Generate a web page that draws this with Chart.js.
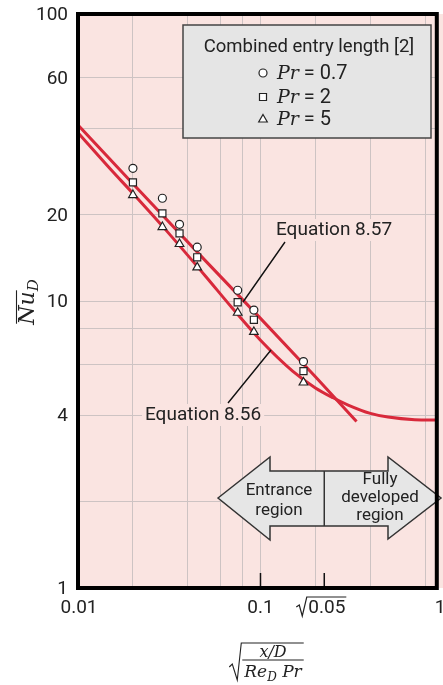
<!DOCTYPE html>
<html>
<head>
<meta charset="utf-8">
<script src="https://cdn.jsdelivr.net/npm/chart.js@4"></script>
<style>
  html, body { margin: 0; padding: 0; background: #fff; }
  #wrap { width: 443px; height: 685px; }
</style>
</head>
<body>
<div id="wrap"><canvas id="myChart" width="443" height="685"></canvas></div>
<script>
// measured points (Combined entry length [2])
const xData = [0.02, 0.029, 0.036, 0.045, 0.075, 0.092, 0.172];
const nuPr07 = [29.0, 22.8, 18.5, 15.4, 10.9, 9.3, 6.15];
const nuPr2 = [25.9, 20.2, 17.2, 14.2, 9.9, 8.6, 5.7];
const nuPr5 = [23.4, 18.1, 15.8, 13.1, 9.1, 7.8, 5.2];

// Equation 8.57
const eq57X = [0.01, 0.02, 0.05, 0.1, 0.2, 0.336];
const eq57Y = [41.0, 25.6, 13.8, 8.7, 5.45, 3.8];

// Equation 8.56
const eq56X = [0.01, 0.015, 0.02, 0.03, 0.05, 0.07, 0.1, 0.15, 0.2, 0.25, 0.3, 0.4, 0.5, 0.7, 0.925];
const eq56Y = [38.6, 28.9, 23.7, 17.8, 12.2, 9.45, 7.3, 5.7, 4.98, 4.6, 4.35, 4.06, 3.94, 3.86, 3.85];

// axes
const yGrid = [2, 4, 6, 8, 10, 20, 40, 60];
const yTickLabels = [1, 4, 10, 20, 60, 100];
const xGrid = [0.02, 0.04, 0.06, 0.08, 0.1, 0.2, 0.4, 0.8];
const xTickMarks = [0.1, Math.sqrt(0.05)];

const sans = 'Roboto, "Liberation Sans", sans-serif';
const serif = '"DejaVu Serif", "Liberation Serif", serif';
const ink = '#222';
const pink = '#fae4e1';

const pts = (xs, ys) => xs.map((x, i) => ({ x: x, y: ys[i] }));

function marker(ctx, style, x, y) {
  ctx.save();
  ctx.fillStyle = '#fff';
  ctx.strokeStyle = ink;
  ctx.lineWidth = 1.2;
  ctx.beginPath();
  if (style === 'circle') {
    ctx.arc(x, y, 4, 0, Math.PI * 2);
  } else if (style === 'rect') {
    ctx.rect(x - 3.5, y - 3.5, 7, 7);
  } else {
    ctx.moveTo(x, y - 4.5);
    ctx.lineTo(x + 4.3, y + 3);
    ctx.lineTo(x - 4.3, y + 3);
    ctx.closePath();
  }
  ctx.fill();
  ctx.stroke();
  ctx.restore();
}

function runsWidth(ctx, runs) {
  let w = 0;
  runs.forEach(r => { ctx.font = r.f; w += ctx.measureText(r.t).width; });
  return w;
}
function drawRuns(ctx, x, y, runs) {
  let cx = x;
  runs.forEach(r => {
    ctx.font = r.f;
    ctx.fillText(r.t, cx, y + (r.dy || 0));
    cx += ctx.measureText(r.t).width;
  });
  return cx;
}

const figure = {
  id: 'figure',
  beforeDraw(chart) {
    const { ctx, chartArea: a } = chart;
    ctx.save();
    ctx.fillStyle = pink;
    ctx.fillRect(a.left, a.top, chart.width - a.left, a.bottom - a.top);
    ctx.restore();
  },
  afterDatasetsDraw(chart) {
    const { ctx, chartArea: a } = chart;
    const xs = chart.scales.x;
    ctx.save();

    // legend box
    ctx.fillStyle = '#e5e5e5';
    ctx.strokeStyle = '#444';
    ctx.lineWidth = 1.5;
    ctx.fillRect(183, 25, 248, 113);
    ctx.strokeRect(183, 25, 248, 113);
    ctx.fillStyle = ink;
    ctx.textBaseline = 'middle';
    ctx.textAlign = 'center';
    ctx.font = '18.5px ' + sans;
    ctx.fillText('Combined entry length [2]', 309, 47);
    ctx.textAlign = 'left';
    const rows = [['circle', '0.7', 73], ['rect', '2', 97], ['triangle', '5', 119]];
    rows.forEach(r => {
      marker(ctx, r[0], 263, r[2]);
      ctx.fillStyle = ink;
      drawRuns(ctx, 277, r[2] + 1, [
        { t: 'Pr', f: 'italic 19px ' + serif },
        { t: ' = ' + r[1], f: '20px ' + sans }
      ]);
    });

    // equation labels
    ctx.font = '19px ' + sans;
    const lab = (txt, x, y) => {
      const w = ctx.measureText(txt).width;
      ctx.fillStyle = pink;
      ctx.fillRect(x - 3, y - 11, w + 6, 22);
      ctx.fillStyle = ink;
      ctx.fillText(txt, x, y);
    };
    lab('Equation 8.57', 276, 230);
    lab('Equation 8.56', 145, 415);
    ctx.strokeStyle = '#111';
    ctx.lineWidth = 1.4;
    ctx.beginPath();
    ctx.moveTo(285, 242); ctx.lineTo(243, 302);
    ctx.moveTo(228, 403); ctx.lineTo(271, 350);
    ctx.stroke();

    // entrance / fully developed arrow
    const mid = xs.getPixelForValue(Math.sqrt(0.05));
    ctx.beginPath();
    ctx.moveTo(218, 498);
    ctx.lineTo(270, 457); ctx.lineTo(270, 471);
    ctx.lineTo(388, 471); ctx.lineTo(388, 457);
    ctx.lineTo(441, 498);
    ctx.lineTo(388, 539); ctx.lineTo(388, 526);
    ctx.lineTo(270, 526); ctx.lineTo(270, 540);
    ctx.closePath();
    ctx.fillStyle = '#e6e6e6';
    ctx.fill();
    ctx.strokeStyle = '#333';
    ctx.lineWidth = 1.5;
    ctx.stroke();
    ctx.beginPath();
    ctx.moveTo(mid, 471); ctx.lineTo(mid, 526);
    ctx.stroke();
    ctx.fillStyle = ink;
    ctx.textAlign = 'center';
    ctx.font = '17px ' + sans;
    ctx.fillText('Entrance', 279, 491);
    ctx.fillText('region', 279, 511);
    ctx.fillText('Fully', 380, 480);
    ctx.fillText('developed', 380, 498);
    ctx.fillText('region', 380, 516);

    // short ticks on the bottom axis
    ctx.strokeStyle = '#111';
    ctx.lineWidth = 1.5;
    ctx.beginPath();
    xTickMarks.forEach(v => {
      const px = xs.getPixelForValue(v);
      ctx.moveTo(px, a.bottom - 15); ctx.lineTo(px, a.bottom);
    });
    ctx.stroke();
    ctx.restore();
  },
  afterDraw(chart) {
    const { ctx, chartArea: a } = chart;
    const xs = chart.scales.x, ys = chart.scales.y;
    ctx.save();
    // frame
    ctx.strokeStyle = '#000';
    ctx.lineWidth = 4;
    ctx.strokeRect(a.left, a.top, a.right - a.left, a.bottom - a.top);

    // y tick labels
    ctx.fillStyle = ink;
    ctx.font = '19px ' + sans;
    ctx.textAlign = 'right';
    ctx.textBaseline = 'middle';
    yTickLabels.forEach(v => {
      ctx.fillText(String(v), 68, ys.getPixelForValue(v) + 1.5);
    });

    // x tick labels
    ctx.textAlign = 'center';
    const ty = 608;
    ctx.fillText('0.01', xs.getPixelForValue(0.01) + 1, ty);
    ctx.fillText('0.1', xs.getPixelForValue(0.1), ty);
    ctx.fillText('1', 440, ty);
    // sqrt(0.05)
    const sx = xs.getPixelForValue(Math.sqrt(0.05));
    ctx.textAlign = 'left';
    const w05 = ctx.measureText('0.05').width;
    const tx = sx - 16;
    ctx.fillText('0.05', tx, ty);
    ctx.strokeStyle = ink;
    ctx.lineWidth = 1.2;
    ctx.beginPath();
    ctx.moveTo(tx - 12, ty - 1);
    ctx.lineTo(tx - 9, ty - 3);
    ctx.lineTo(tx - 6, ty + 8);
    ctx.lineTo(tx - 1.5, ty - 11);
    ctx.lineTo(tx + w05 + 1, ty - 11);
    ctx.stroke();

    // x axis title: sqrt( (x/D) / (Re_D Pr) )
    ctx.textBaseline = 'alphabetic';
    const num = [{ t: 'x/D', f: 'italic 16px ' + serif }];
    const den = [
      { t: 'Re', f: 'italic 17px ' + serif },
      { t: 'D', f: 'italic 12px ' + serif, dy: 4 },
      { t: ' Pr', f: 'italic 17px ' + serif }
    ];
    const cx = 273;
    const nw = runsWidth(ctx, num), dw = runsWidth(ctx, den);
    const fw = Math.max(nw, dw) + 4;
    drawRuns(ctx, cx - nw / 2, 657, num);
    drawRuns(ctx, cx - dw / 2, 677, den);
    ctx.lineWidth = 1.1;
    ctx.beginPath();
    ctx.moveTo(cx - fw / 2, 660); ctx.lineTo(cx + fw / 2, 660);
    ctx.moveTo(cx - fw / 2 - 13, 667);
    ctx.lineTo(cx - fw / 2 - 10, 664);
    ctx.lineTo(cx - fw / 2 - 5, 680);
    ctx.lineTo(cx - fw / 2 - 1, 643);
    ctx.lineTo(cx + fw / 2, 643);
    ctx.stroke();

    // y axis title: Nu_D with overline
    ctx.translate(34, 302);
    ctx.rotate(-Math.PI / 2);
    const nu = [
      { t: 'Nu', f: 'italic 22px ' + serif },
      { t: 'D', f: 'italic 15px ' + serif, dy: 4 }
    ];
    const tw = runsWidth(ctx, nu);
    ctx.font = 'italic 22px ' + serif;
    const nuw = ctx.measureText('Nu').width;
    drawRuns(ctx, -tw / 2, 0, nu);
    ctx.lineWidth = 1.1;
    ctx.beginPath();
    ctx.moveTo(-tw / 2 + 1, -17.5); ctx.lineTo(-tw / 2 + nuw + 1, -17.5);
    ctx.stroke();
    ctx.restore();
  }
};

const lineStyle = {
  showLine: true,
  borderColor: '#d8293b',
  borderWidth: 3,
  borderCapStyle: 'butt',
  pointRadius: 0,
  fill: false,
  order: 2
};
const markStyle = {
  showLine: false,
  backgroundColor: '#fff',
  borderColor: ink,
  borderWidth: 1.2,
  order: 1
};

const data = {
  datasets: [
    { ...lineStyle, label: 'Equation 8.57', data: pts(eq57X, eq57Y), tension: 0 },
    { ...lineStyle, label: 'Equation 8.56', data: pts(eq56X, eq56Y), cubicInterpolationMode: 'monotone' },
    { ...markStyle, label: 'Pr = 0.7', data: pts(xData, nuPr07), pointStyle: 'circle', pointRadius: 4 },
    { ...markStyle, label: 'Pr = 2', data: pts(xData, nuPr2), pointStyle: 'rect', pointRadius: 5 },
    { ...markStyle, label: 'Pr = 5', data: pts(xData, nuPr5), pointStyle: 'triangle', pointRadius: 5 }
  ]
};

const gridOpts = { color: '#cdc3c3', lineWidth: 1, drawTicks: false };

const config = {
  type: 'scatter',
  data,
  options: {
    responsive: false,
    animation: false,
    devicePixelRatio: 1,
    events: [],
    layout: { padding: { left: 78, top: 14, right: 5.5, bottom: 97 } },
    plugins: { legend: { display: false }, tooltip: { enabled: false } },
    scales: {
      x: {
        type: 'logarithmic',
        min: 0.01,
        max: 0.925,
        grid: gridOpts,
        border: { display: false },
        ticks: { display: false },
        afterBuildTicks: s => { s.ticks = xGrid.map(v => ({ value: v })); }
      },
      y: {
        type: 'logarithmic',
        min: 1,
        max: 100,
        grid: gridOpts,
        border: { display: false },
        ticks: { display: false },
        afterBuildTicks: s => { s.ticks = yGrid.map(v => ({ value: v })); }
      }
    }
  },
  plugins: [figure]
};

const myChart = new Chart(document.getElementById('myChart'), config);
</script>
</body>
</html>
